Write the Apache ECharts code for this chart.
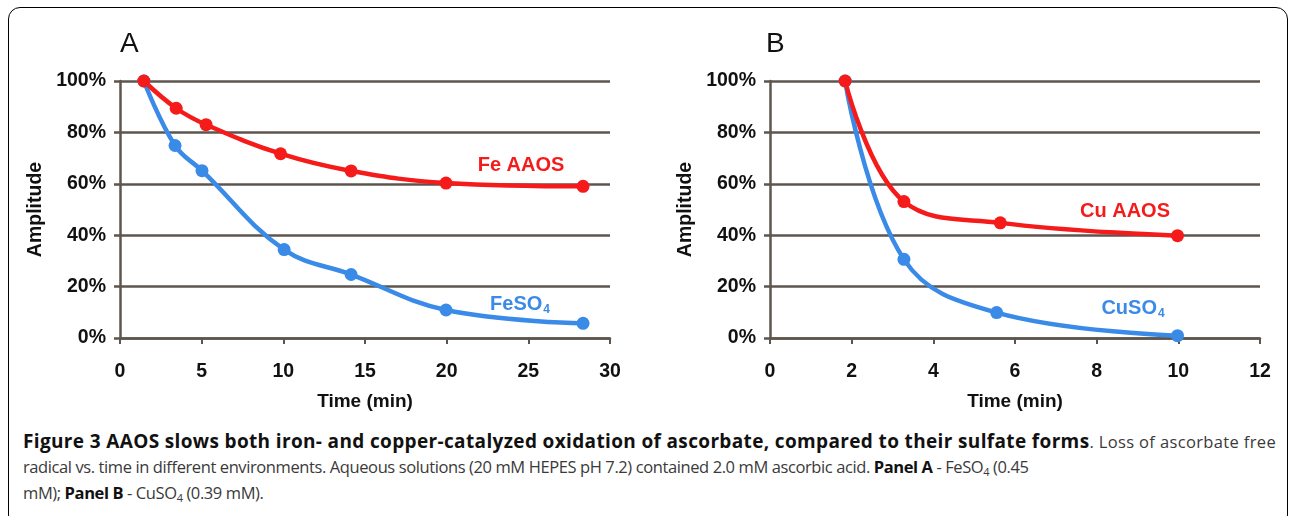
<!DOCTYPE html>
<html>
<head>
<meta charset="utf-8">
<script src="https://cdn.jsdelivr.net/npm/echarts@6/dist/echarts.min.js"></script>
<style>
  html, body { margin: 0; padding: 0; background: #fff; }
  #wrap { position: relative; width: 1292px; height: 516px; overflow: hidden; }
  #frame { position: absolute; left: 8px; top: 7px; width: 1280px; height: 520px;
           border: 1.5px solid #000; border-radius: 12px; box-sizing: border-box; }
  #chart { position: absolute; left: 0; top: 0; width: 1292px; height: 420px; }
  .cap { position: absolute; left: 23px; font-family: 'Open Sans', sans-serif;
         font-size: 16.5px; line-height: 26px; color: #3a3a3a; white-space: nowrap; }
  .cap b { color: #111; }
  .cap b.head { font-size: 19px; }
  .cap sub { font-size: 11px; vertical-align: -3px; line-height: 0; }
</style>
</head>
<body>
<div id="wrap">
  <div id="frame"></div>
  <div id="chart"></div>
  <div class="cap" id="cap1" data-w="1253" style="top:428px"><b class="head">Figure 3 AAOS slows both iron- and copper-catalyzed oxidation of ascorbate, compared to their sulfate forms</b>. Loss of ascorbate free</div>
  <div class="cap" id="cap2" data-w="990" style="top:454px">radical vs. time in different environments. Aqueous solutions (20 mM HEPES pH 7.2) contained 2.0 mM ascorbic acid. <b>Panel A</b> - FeSO<sub>4</sub> (0.45</div>
  <div class="cap" id="cap3" data-w="228" style="top:480px">mM); <b>Panel B</b> - CuSO<sub>4</sub> (0.39 mM).</div>
</div>
<script>
// Panel A data (time in min, amplitude in %)
const timeFeAAOS = [1.46, 3.44, 5.27, 9.83, 14.15, 19.96, 28.35];
const ampFeAAOS  = [100, 89.4, 83.0, 71.7, 65.0, 60.3, 59.0];
const timeFeSO4  = [1.46, 3.37, 5.02, 10.05, 14.15, 19.96, 28.35];
const ampFeSO4   = [100, 74.9, 65.1, 34.4, 24.7, 10.9, 5.7];
// Panel B data
const timeCuAAOS = [1.84, 3.28, 5.64, 9.98];
const ampCuAAOS  = [100, 53.1, 44.8, 39.8];
const timeCuSO4  = [1.84, 3.28, 5.55, 9.98];
const ampCuSO4   = [100, 30.6, 9.9, 0.9];
// Axis settings
const xMaxA = 30, xStepA = 5;
const xMaxB = 12, xStepB = 2;
const yMax = 100, yStep = 20;

// fine-tune caption lines to the reference's line lengths (small correction only)
document.querySelectorAll('.cap').forEach(el => {
  const target = +el.dataset.w;
  const w = el.getBoundingClientRect().width;
  const n = el.textContent.length;
  let ls = (target - w) / n;
  ls = Math.max(-0.4, Math.min(0.4, ls));
  el.style.letterSpacing = ls.toFixed(3) + 'px';
});

const RED = '#f51b1b', BLUE = '#3a8be8', AX = '#5e564e';
const FONT = "'Liberation Sans', Arial, sans-serif";

function zip(xs, ys) { return xs.map((x, i) => [x, ys[i]]); }

function xAxisCfg(gi, max, step) {
  return {
    type: 'value', gridIndex: gi, min: 0, max: max, interval: step,
    name: 'Time (min)', nameLocation: 'middle', nameGap: 54,
    nameTextStyle: { fontFamily: FONT, fontWeight: 'bold', fontSize: 19, color: '#111' },
    axisLine: { show: true, onZero: false, lineStyle: { color: AX, width: 2.5 } },
    axisTick: { show: true, length: 6, lineStyle: { color: AX, width: 2 } },
    axisLabel: { margin: 24, fontFamily: FONT, fontWeight: 'bold', fontSize: 19.5, color: '#111' },
    splitLine: { show: false }
  };
}
function yAxisCfg(gi) {
  return {
    type: 'value', gridIndex: gi, min: 0, max: yMax, interval: yStep,
    name: 'Amplitude', nameLocation: 'middle', nameGap: 74, nameRotate: 90,
    nameTextStyle: { fontFamily: FONT, fontWeight: 'bold', fontSize: 19.5, color: '#111' },
    axisLine: { show: true, lineStyle: { color: AX, width: 2.5 } },
    axisTick: { show: true, length: 6, lineStyle: { color: AX, width: 2.5 } },
    axisLabel: { margin: 14, fontFamily: FONT, fontWeight: 'bold', fontSize: 19.5, color: '#111',
                 formatter: v => v + '%' },
    splitLine: { show: true, lineStyle: { color: AX, width: 2.5 } }
  };
}
function lineSeries(gi, data, color) {
  return {
    type: 'line', xAxisIndex: gi, yAxisIndex: gi, data: data, smooth: 0.4,
    symbol: 'circle', symbolSize: 13, lineStyle: { color: color, width: 4.5 },
    itemStyle: { color: color }, z: 3, animation: false
  };
}
function lbl(x, y, main, sub, color) {
  return {
    type: 'text', x: x, y: y, z: 10,
    style: {
      text: sub ? '{m|' + main + '}{s|' + sub + '}' : '{m|' + main + '}',
      align: 'center', verticalAlign: 'middle',
      rich: {
        m: { fontFamily: FONT, fontWeight: 'bold', fontSize: 20, fill: color, color: color },
        s: { fontFamily: FONT, fontWeight: 'bold', fontSize: 12, fill: color, color: color, padding: [12, 0, 0, 1] }
      }
    }
  };
}

const chart = echarts.init(document.getElementById('chart'), null, { renderer: 'canvas' });
chart.setOption({
  animation: false,
  backgroundColor: 'transparent',
  grid: [
    { left: 120, top: 81, width: 490, height: 257 },
    { left: 770, top: 81, width: 490, height: 257 }
  ],
  xAxis: [xAxisCfg(0, xMaxA, xStepA), xAxisCfg(1, xMaxB, xStepB)],
  yAxis: [yAxisCfg(0), yAxisCfg(1)],
  series: [
    lineSeries(0, zip(timeFeSO4, ampFeSO4), BLUE),
    lineSeries(0, zip(timeFeAAOS, ampFeAAOS), RED),
    lineSeries(1, zip(timeCuSO4, ampCuSO4), BLUE),
    lineSeries(1, zip(timeCuAAOS, ampCuAAOS), RED)
  ],
  graphic: [
    { type: 'text', left: 120, top: 30, style: { text: 'A', fontFamily: FONT, fontSize: 28, fill: '#111' } },
    { type: 'text', left: 766, top: 30, style: { text: 'B', fontFamily: FONT, fontSize: 28, fill: '#111' } },
    lbl(521, 165, 'Fe AAOS', '', RED),
    lbl(520, 304, 'FeSO', '4', BLUE),
    lbl(1125, 211, 'Cu AAOS', '', RED),
    lbl(1133, 308, 'CuSO', '4', BLUE)
  ]
});
</script>
</body>
</html>
